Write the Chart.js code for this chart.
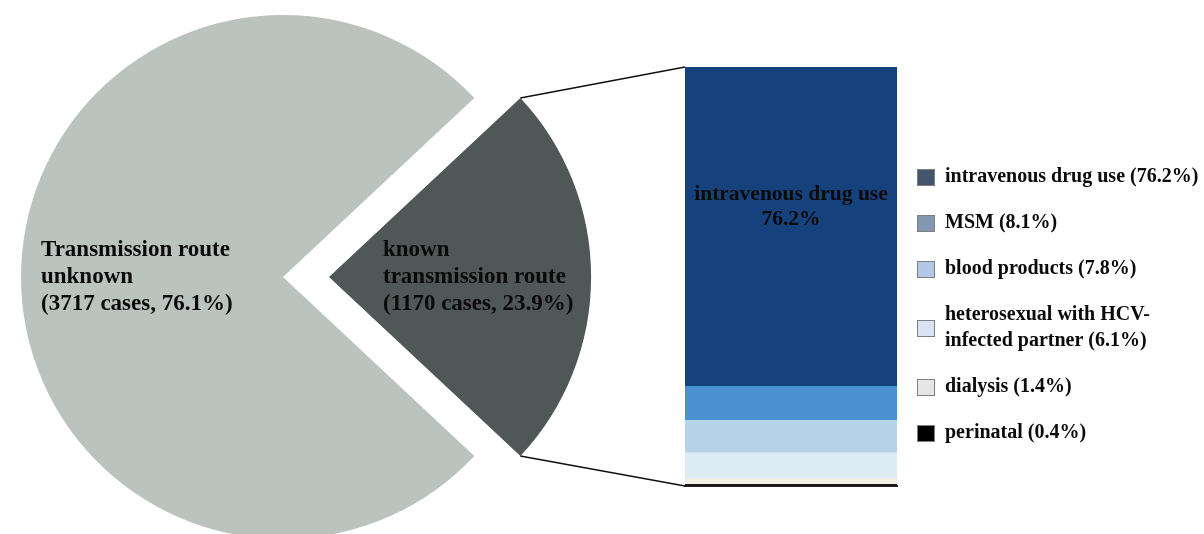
<!DOCTYPE html>
<html>
<head>
<meta charset="utf-8">
<script src="https://cdn.jsdelivr.net/npm/chart.js@4.4.1/dist/chart.umd.min.js"></script>
<style>
  html, body { margin: 0; padding: 0; background: #fff; }
  #wrap { position: relative; width: 1204px; height: 534px; }
  #wrap canvas { position: absolute; left: 0; top: 0; }
</style>
</head>
<body>
<div id="wrap">
  <canvas id="pieChart" width="1204" height="534"></canvas>
  <canvas id="barChart" width="1204" height="534"></canvas>
</div>
<script>
// overall split of cases
const pieLabels = [["known", "transmission route"], ["Transmission route", "unknown"]];
const pieCases = [1170, 3717];
const piePercent = [23.9, 76.1];
const pieColors = ["#505857", "#bbc3bf"];

// breakdown of the known routes (top of the bar first)
const routeLabels = ["intravenous drug use", "MSM", "blood products",
    "heterosexual with HCV-\ninfected partner", "dialysis", "perinatal"];
const routePercent = [76.2, 8.1, 7.8, 6.1, 1.4, 0.4];
const barColors = ["#15427d", "#4a92cf", "#b6d3e8", "#ddebf4", "#f2efe3", "#1a1a1a"];
const legendColors = ["#44546a", "#8497b0", "#b4c7e7", "#dae3f3", "#e7e6e6", "#000000"];

const SERIF = "'Liberation Serif', 'Times New Roman', serif";
const SLICE_SHIFT = 46;

const totalCases = pieCases.reduce((a, b) => a + b, 0);

const pieTextPlugin = {
    id: "pieText",
    afterDatasetsDraw(chart) {
        const ctx = chart.ctx;
        const arcs = chart.getDatasetMeta(0).data;
        ctx.save();
        ctx.font = "bold 23px " + SERIF;
        ctx.fillStyle = "#0a0a0a";
        ctx.textBaseline = "middle";
        ctx.textAlign = "left";
        arcs.forEach((arc, i) => {
            const lines = pieLabels[i].concat(["(" + pieCases[i] + " cases, " + piePercent[i] + "%)"]);
            const x = i === 0 ? arc.x + SLICE_SHIFT + 54 : arc.x - 242;
            lines.forEach((t, k) => ctx.fillText(t, x, arc.y - 27 + k * 27));
        });
        ctx.restore();
    }
};

const pieChart = new Chart(document.getElementById("pieChart"), {
    type: "pie",
    data: {
        labels: pieLabels.map(l => l.join(" ")),
        datasets: [{
            data: pieCases,
            backgroundColor: pieColors,
            borderWidth: 0,
            offset: [SLICE_SHIFT * 4, 0],
            hoverOffset: 0
        }]
    },
    options: {
        responsive: false,
        animation: false,
        events: [],
        radius: 262,
        rotation: 90 - 180 * pieCases[0] / totalCases,
        layout: { padding: { left: 0, right: 638, top: 20, bottom: 0 } },
        plugins: { legend: { display: false }, tooltip: { enabled: false } }
    },
    plugins: [pieTextPlugin]
});

const barExtrasPlugin = {
    id: "barExtras",
    afterDraw(chart) {
        const ctx = chart.ctx;
        const area = chart.chartArea;
        const topBar = chart.getDatasetMeta(chart.data.datasets.length - 1).data[0];
        const barLeft = topBar.x - topBar.width / 2;

        // lines from the known slice to the bar
        const arc = pieChart.getDatasetMeta(0).data[0];
        const mid = (arc.startAngle + arc.endAngle) / 2;
        const cx = arc.x + Math.cos(mid) * SLICE_SHIFT;
        const cy = arc.y + Math.sin(mid) * SLICE_SHIFT;
        const r = arc.outerRadius;
        ctx.save();
        ctx.strokeStyle = "#111";
        ctx.lineWidth = 1.5;
        ctx.beginPath();
        ctx.moveTo(cx + Math.cos(arc.startAngle) * r, cy + Math.sin(arc.startAngle) * r);
        ctx.lineTo(barLeft, topBar.y);
        ctx.moveTo(cx + Math.cos(arc.endAngle) * r, cy + Math.sin(arc.endAngle) * r);
        ctx.lineTo(barLeft, area.bottom);
        ctx.stroke();

        // label inside the largest segment
        ctx.font = "bold 21.5px " + SERIF;
        ctx.fillStyle = "#0a0a0a";
        ctx.textAlign = "center";
        ctx.textBaseline = "middle";
        ctx.fillText(routeLabels[0], topBar.x, topBar.y + 127);
        ctx.fillText(routePercent[0] + "%", topBar.x, topBar.y + 152);

        // legend
        ctx.font = "bold 20px " + SERIF;
        ctx.textAlign = "left";
        let y = 177;
        routeLabels.forEach((label, i) => {
            const lines = (label + " (" + routePercent[i] + "%)").split("\n");
            const boxY = y + (lines.length - 1) * 13 - 8;
            ctx.fillStyle = legendColors[i];
            ctx.fillRect(917, boxY, 18, 17);
            ctx.strokeStyle = "#7f7f7f";
            ctx.lineWidth = 1;
            ctx.strokeRect(917.5, boxY + 0.5, 17, 16);
            ctx.fillStyle = "#0a0a0a";
            lines.forEach((t, k) => ctx.fillText(t, 945, y + k * 26));
            y += (lines.length - 1) * 26 + 46;
        });
        ctx.restore();
    }
};

const barIdx = routeLabels.map((_, i) => i).reverse();

new Chart(document.getElementById("barChart"), {
    type: "bar",
    data: {
        labels: ["known routes"],
        datasets: barIdx.map(i => ({
            label: routeLabels[i],
            data: [routePercent[i]],
            backgroundColor: barColors[i],
            borderWidth: 0,
            barPercentage: 1,
            categoryPercentage: 1
        }))
    },
    options: {
        responsive: false,
        animation: false,
        events: [],
        layout: { padding: { left: 685, right: 307, top: 67, bottom: 48 } },
        scales: {
            x: {
                stacked: true,
                grid: { display: false, drawTicks: false },
                ticks: { display: false },
                border: { display: true, color: "#222", width: 2 }
            },
            y: {
                stacked: true,
                display: false,
                min: 0,
                max: 100
            }
        },
        plugins: { legend: { display: false }, tooltip: { enabled: false } }
    },
    plugins: [barExtrasPlugin]
});
</script>
</body>
</html>
